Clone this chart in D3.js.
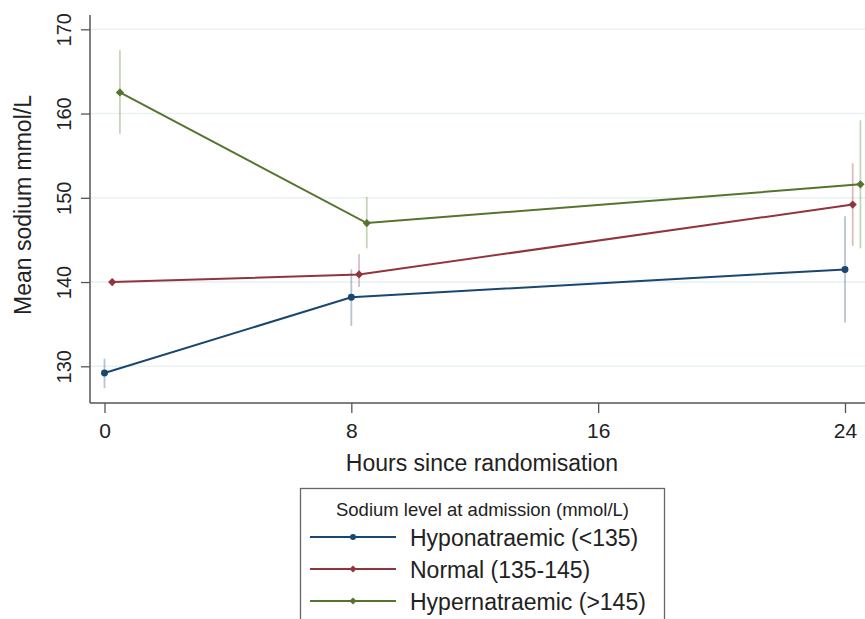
<!DOCTYPE html>
<html>
<head>
<meta charset="utf-8">
<script src="https://cdn.jsdelivr.net/npm/d3@7"></script>
<style>
  html, body { margin: 0; padding: 0; background: #fff; }
  svg { display: block; font-family: "Liberation Sans", Arial, sans-serif; }
</style>
</head>
<body>
<svg id="chart" width="865" height="619"></svg>
<script>
// ---- data ----
const hours = [0, 8, 24];
const yTicks = [130, 140, 150, 160, 170];
const xTicks = [0, 8, 16, 24];
const seriesNames = ["Hyponatraemic (<135)", "Normal (135-145)", "Hypernatraemic (>145)"];
const seriesOffsets = [0, 0.25, 0.5];          // hours offset (dodge)
const hypoMean  = [129.2, 138.2, 141.5];
const hypoLo    = [127.4, 134.8, 135.2];
const hypoHi    = [130.9, 141.5, 147.8];
const normMean  = [140.0, 140.9, 149.2];
const normLo    = [139.6, 139.4, 144.3];
const normHi    = [140.4, 143.3, 154.1];
const hyperMean = [162.5, 147.0, 151.6];
const hyperLo   = [157.6, 144.0, 144.0];
const hyperHi   = [167.5, 150.1, 159.2];
const legendTitle = "Sodium level at admission (mmol/L)";
const xTitle = "Hours since randomisation";
const yTitle = "Mean sodium mmol/L";

const colors = ["#1a476f", "#90353b", "#55752f"];
const markers = ["circle", "diamond", "diamond"];

const series = [
  {name: seriesNames[0], mean: hypoMean, lo: hypoLo, hi: hypoHi},
  {name: seriesNames[1], mean: normMean, lo: normLo, hi: normHi},
  {name: seriesNames[2], mean: hyperMean, lo: hyperLo, hi: hyperHi}
];

function markerPath(kind, scale) {
  if (kind === "circle") return d3.symbol().type(d3.symbolCircle).size(38 * scale)();
  return d3.symbol().type(d3.symbolSquare).size(34 * scale)();
}
function markerRot(kind) { return kind === "circle" ? "" : " rotate(45)"; }

const svg = d3.select("#chart");
const pLeft = 90, pTop = 15, pBottom = 403, pRight = 865;

const x = d3.scaleLinear().domain([0, 24]).range([104.5, 845]);
const y = d3.scaleLinear().domain([130, 170]).range([366.3, 29.3]);

// gridlines
svg.append("g").selectAll("line").data(yTicks).join("line")
  .attr("x1", pLeft + 1).attr("x2", pRight)
  .attr("y1", d => y(d)).attr("y2", d => y(d))
  .attr("stroke", "#e9f1f3").attr("stroke-width", 1.5);

// y axis
const yAxis = svg.append("g").attr("transform", `translate(${pLeft},0)`)
  .call(d3.axisLeft(y).tickValues(yTicks).tickSize(9).tickPadding(8).tickFormat(d3.format("d")));
yAxis.select(".domain").attr("d", `M0,${pTop}V${pBottom}`).attr("stroke", "#555").attr("stroke-width", 1.5);
yAxis.selectAll(".tick line").attr("stroke", "#555").attr("stroke-width", 1.3);
yAxis.selectAll(".tick text").each(function() {
  d3.select(this).attr("x", 0).attr("y", 0).attr("dy", null)
    .attr("transform", "translate(-19,0) rotate(-90)")
    .attr("text-anchor", "middle")
    .attr("font-size", 20).attr("fill", "#222");
});

// x axis
const xAxis = svg.append("g").attr("transform", `translate(0,${pBottom})`)
  .call(d3.axisBottom(x).tickValues(xTicks).tickSize(10).tickPadding(10).tickFormat(d3.format("d")));
xAxis.select(".domain").attr("d", `M${pLeft},0H${pRight}`).attr("stroke", "#555").attr("stroke-width", 1.5);
xAxis.selectAll(".tick line").attr("stroke", "#555").attr("stroke-width", 1.3);
xAxis.selectAll(".tick text").attr("font-size", 21).attr("fill", "#222");

// titles
svg.append("text").attr("x", 482).attr("y", 471).attr("text-anchor", "middle")
  .attr("font-size", 23).attr("fill", "#222").text(xTitle);
svg.append("text").attr("transform", "translate(31,205) rotate(-90)").attr("text-anchor", "middle")
  .attr("font-size", 23).attr("fill", "#222").text(yTitle);

// series
const line = d3.line();
series.forEach((s, i) => {
  const g = svg.append("g");
  const pts = hours.map((h, j) => ({x: x(h + seriesOffsets[i]), m: y(s.mean[j]), lo: y(s.lo[j]), hi: y(s.hi[j])}));
  g.selectAll("line.err").data(pts).join("line")
    .attr("x1", d => d.x).attr("x2", d => d.x)
    .attr("y1", d => d.lo).attr("y2", d => d.hi)
    .attr("stroke", colors[i]).attr("stroke-opacity", 0.32).attr("stroke-width", 1.8);
  g.append("path").attr("d", line(pts.map(p => [p.x, p.m])))
    .attr("fill", "none").attr("stroke", colors[i]).attr("stroke-width", 2);
  g.selectAll("path.mk").data(pts).join("path")
    .attr("transform", d => `translate(${d.x},${d.m})${markerRot(markers[i])}`)
    .attr("d", markerPath(markers[i], 1))
    .attr("fill", colors[i]);
});

// legend
const lg = svg.append("g");
lg.append("rect").attr("x", 300.5).attr("y", 488.5).attr("width", 364).attr("height", 140)
  .attr("fill", "#fff").attr("stroke", "#666").attr("stroke-width", 1.3);
lg.append("text").attr("x", 482.5).attr("y", 516).attr("text-anchor", "middle")
  .attr("font-size", 18.5).attr("fill", "#222").text(legendTitle);
const ly = [537, 569, 601];
series.forEach((s, i) => {
  lg.append("line").attr("x1", 310).attr("x2", 396).attr("y1", ly[i]).attr("y2", ly[i])
    .attr("stroke", colors[i]).attr("stroke-width", 2);
  lg.append("path").attr("transform", `translate(353,${ly[i]})${markerRot(markers[i])}`)
    .attr("d", markerPath(markers[i], 0.75)).attr("fill", colors[i]);
  lg.append("text").attr("x", 410).attr("y", ly[i] + 8.5).attr("font-size", 23).attr("fill", "#222").text(s.name);
});
</script>
</body>
</html>
